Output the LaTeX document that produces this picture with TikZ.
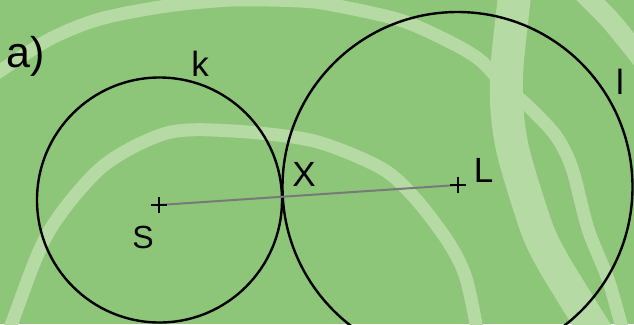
\documentclass[tikz,border=0pt]{standalone}
\usepackage{fontspec}
\setmainfont{Liberation Sans}
\definecolor{bg}{RGB}{141,197,121}
\definecolor{bandc}{RGB}{181,218,164}
\definecolor{segc}{RGB}{120,122,120}
\begin{document}
\begin{tikzpicture}[x=1pt,y=-1pt,
  bandline/.style={draw=bandc,line width=#1,line cap=butt},
  bandline/.default=13pt,
  circ/.style={draw=black,line width=2.4pt},
  lbl/.style={inner sep=0pt,anchor=base,font=\fontsize{35}{40}\selectfont},
  crossmark/.style={draw=black,line width=1.8pt},
  seg/.style={draw=segc,line width=2pt}]
\fill[bg] (0,0) rectangle (634,324);
\useasboundingbox (0,0) rectangle (634,324);
\begin{scope}
\clip (0,0) rectangle (634,324);
% band A
\draw[bandline] plot[smooth] coordinates {(-20,84) (0,71) (50,39) (100,19) (167,6) (233,0) (300,1) (333,5) (400,20) (450,42) (480,60) (505,86) (530,108) (556,136) (572,168) (588,229) (608,279) (621,324) (628,350)};
% band B
\draw[bandline=33pt] plot[smooth] coordinates {(516,-20) (514,0) (507,67) (507,110) (514,155) (537,229) (553,262) (573,295) (591,324) (605,345)};
% band C
\draw[bandline] plot[smooth] coordinates {(3,350) (13,320) (48,233) (102,167) (167,133) (233,131) (314,141) (381,168) (414,197) (447,240) (465,275) (476,324) (479,350)};
% band D
\draw[bandline=20pt] plot[smooth] coordinates {(570,-20) (610,20) (652,72)};
\end{scope}

\coordinate (kc) at (159.5,200);
\coordinate (lc) at (457.5,187);
\coordinate (S) at (159,205);
\coordinate (L) at (458,185);

\draw[circ] (kc) circle[radius=122.5pt];
\draw[circ] (lc) circle[radius=175pt];

\draw[seg] (S) -- (L);
\draw[crossmark] ([xshift=-8pt]S) -- ([xshift=8pt]S) ([yshift=-8pt]S) -- ([yshift=8pt]S);
\draw[crossmark] ([xshift=-8pt]L) -- ([xshift=8pt]L) ([yshift=-8pt]L) -- ([yshift=8pt]L);

\node[lbl,anchor=base west,font=\fontsize{43}{48}\selectfont] (a) at (6,67) {a)};
\node[lbl] (kl) at (200,76) {k};
\node[lbl] (ll) at (620,94) {l};
\node[lbl] (Xl) at (304,186) {X};
\node[lbl] (Ll) at (483.5,182) {L};
\node[lbl,font=\fontsize{32}{36}\selectfont] (Sl) at (143,248.5) {S};
\end{tikzpicture}
\end{document}
